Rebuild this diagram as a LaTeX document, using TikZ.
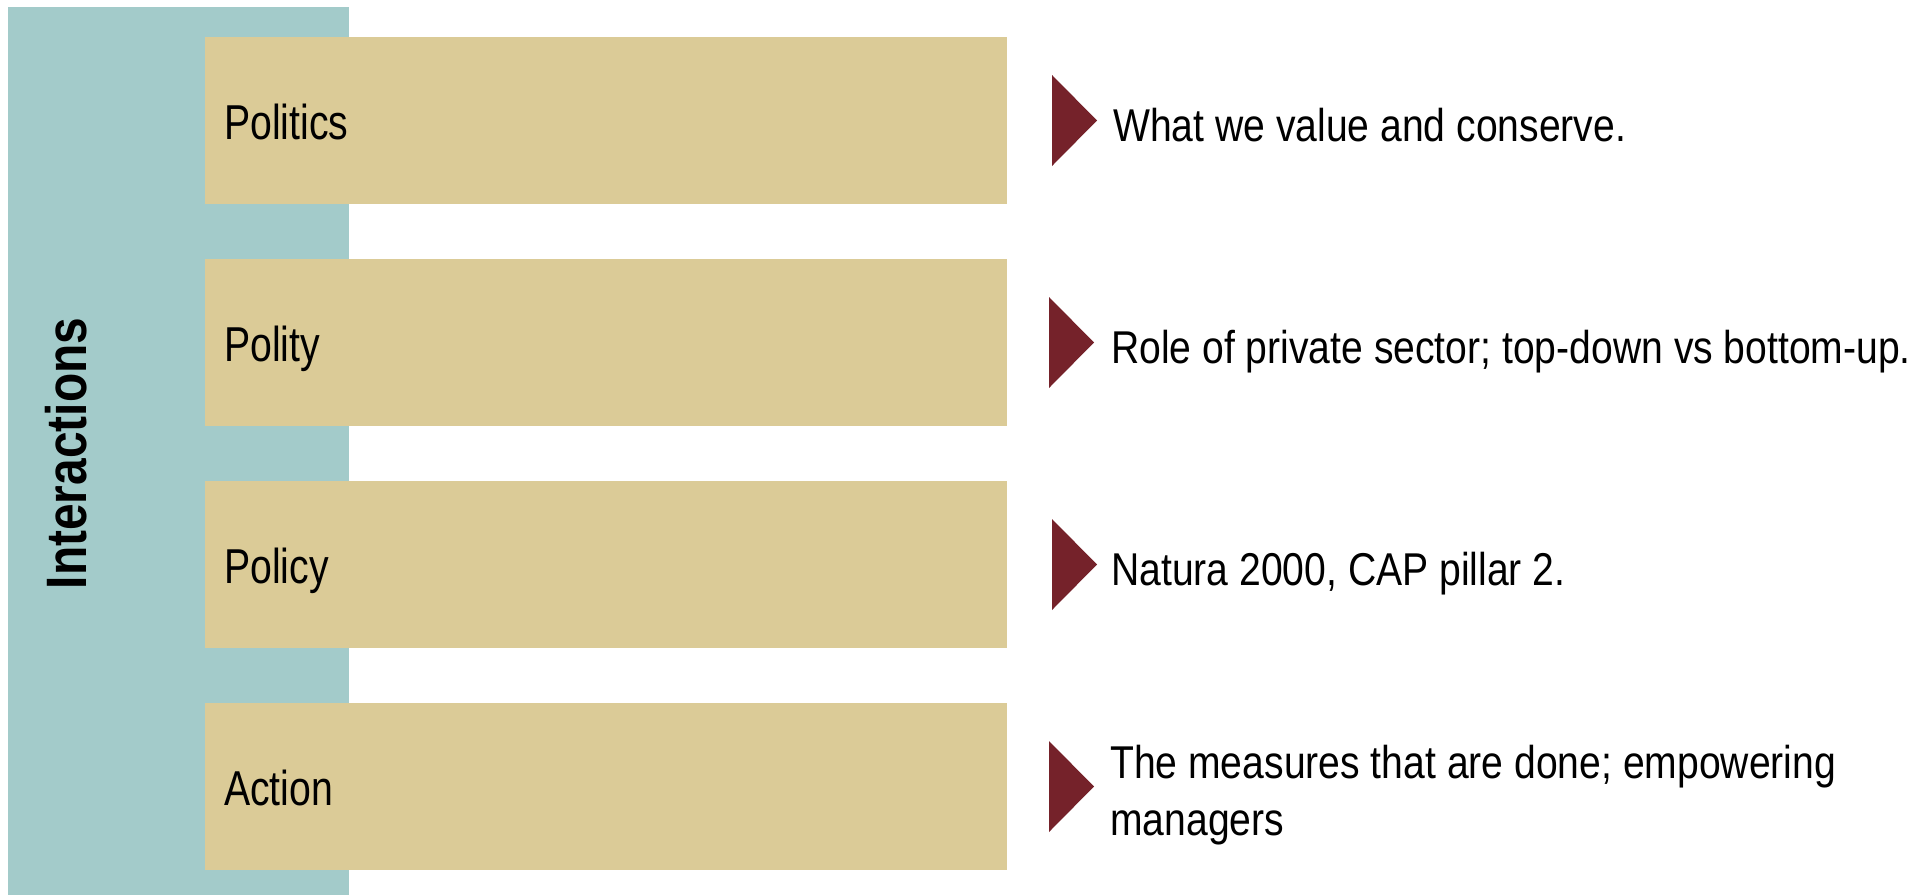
\documentclass[tikz,border=0pt]{standalone}
\usepackage{fontspec}
\setmainfont{Liberation Sans}
\newfontfamily\labfont[FakeStretch=0.80]{Liberation Sans}
\newfontfamily\descfont[FakeStretch=0.85]{Liberation Sans}
\newfontfamily\titfont[FakeStretch=0.84]{Liberation Sans}
\definecolor{tealbg}{RGB}{163,203,202}
\definecolor{tanbox}{RGB}{219,203,151}
\definecolor{darkred}{RGB}{117,34,42}
\tikzset{
  levelbox/.style={fill=tanbox, draw=none},
  pointer/.style={fill=darkred, draw=none},
  lablabel/.style={anchor=base west, inner sep=0pt, font=\labfont\fontsize{49}{56}\selectfont},
  desclabel/.style={anchor=base west, inner sep=0pt, font=\descfont\fontsize{46}{57}\selectfont},
}
\begin{document}
\begin{tikzpicture}[x=1pt,y=-1pt]
\useasboundingbox (0,0) rectangle (1930,895);
% teal band
\fill[tealbg] (8,7) rectangle (349,895);
\node[rotate=90, anchor=base, inner sep=0pt, font=\titfont\bfseries\fontsize{57}{60}\selectfont] (inter) at (86,453.5) {Interactions};
% boxes
\fill[levelbox] (205,37) rectangle (1007,204);
\fill[levelbox] (205,259) rectangle (1007,426);
\fill[levelbox] (205,481) rectangle (1007,648);
\fill[levelbox] (205,703) rectangle (1007,870);
\node[lablabel] (politics) at (224,139) {Politics};
\node[lablabel] (polity) at (224,361) {Polity};
\node[lablabel] (policy) at (224,583) {Policy};
\node[lablabel] (action) at (224,805) {Action};
% pointers
\fill[pointer] (1052,75) -- (1097,120.5) -- (1052,166) -- cycle;
\fill[pointer] (1049,297) -- (1094,342.5) -- (1049,388) -- cycle;
\fill[pointer] (1052,519) -- (1097,564.5) -- (1052,610) -- cycle;
\fill[pointer] (1049,741) -- (1094,786.5) -- (1049,832) -- cycle;
% descriptions
\node[desclabel] (d1) at (1113,141.5) {What we value and conserve.};
\node[desclabel] (d2) at (1111,363) {Role of private sector; top-down vs bottom-up.};
\node[desclabel] (d3) at (1111,585) {Natura 2000, CAP pillar 2.};
\node[desclabel] (d4) at (1110,778) {\parbox[t]{800pt}{\raggedright The measures that are done; empowering\\managers}};
\end{tikzpicture}
\end{document}
